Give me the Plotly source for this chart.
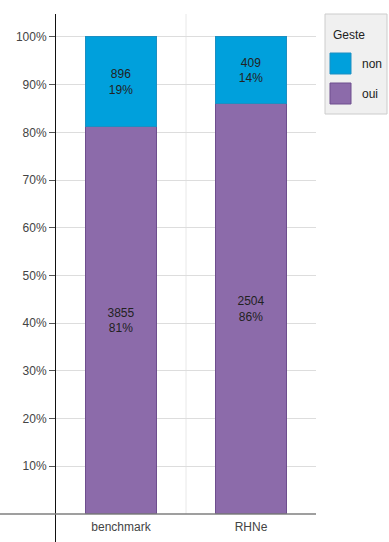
import plotly.graph_objects as go

categories = ["benchmark", "RHNe"]
series_names = ["non", "oui"]
non_counts = [896, 409]
oui_counts = [3855, 2504]
series_colors = ["#00A0DC", "#8C6BAA"]
series_lines = ["#1C8FC2", "#6E4E8E"]
y_ticks = [10, 20, 30, 40, 50, 60, 70, 80, 90, 100]
y_ticktext = [f"{v}%" for v in y_ticks]
legend_title = "Geste"

W, H = 389, 542
ML, MR, MT, MB = 56, 73, 14, 0
PW, PH = W - ML - MR, H - MT - MB

def px_x(x):
    return (x - ML) / PW

def px_y(y):
    return (H - MB - y) / PH

totals = [a + b for a, b in zip(non_counts, oui_counts)]
series_counts = [non_counts, oui_counts]

fig = go.Figure()
# stack order: "oui" at the bottom, "non" on top
for idx in [1, 0]:
    name, counts = series_names[idx], series_counts[idx]
    col, lc = series_colors[idx], series_lines[idx]
    pct = [c / t * 100 for c, t in zip(counts, totals)]
    fig.add_trace(go.Bar(
        x=categories, y=pct, name=name,
        marker=dict(color=col, line=dict(color=lc, width=1)),
        text=[f"{c}<br>{round(p)}%" for c, p in zip(counts, pct)],
        textposition="inside", insidetextanchor="middle",
        textfont=dict(color="#222222", size=12, family="Liberation Sans, Arial"),
        textangle=0, width=0.54, showlegend=False, hoverinfo="skip",
    ))

fig.update_layout(
    barmode="stack",
    width=W, height=H,
    margin=dict(l=ML, r=MR, t=MT, b=MB, pad=0, autoexpand=False),
    paper_bgcolor="white", plot_bgcolor="white",
    font=dict(family="Liberation Sans, Arial", size=12, color="#444444"),
    xaxis=dict(
        type="category", range=[-0.5, 1.5], showgrid=False, showline=False,
        zeroline=False, ticks="", anchor="free", position=px_y(514),
        tickfont=dict(size=12, color="#444444"), automargin=False,
        ticklabelstandoff=4,
    ),
    yaxis=dict(
        range=[-5.87, 104.8], tickvals=y_ticks, ticktext=y_ticktext,
        showgrid=True, gridcolor="#DDDDDD", gridwidth=1,
        showline=True, linecolor="#111111", linewidth=1,
        ticks="outside", ticklen=6, tickcolor="#555555",
        zeroline=False, tickfont=dict(size=12, color="#444444"), automargin=False,
    ),
)

# vertical separator between categories
fig.add_shape(type="line", xref="x", yref="y", x0=0.5, x1=0.5, y0=0, y1=104.8,
              line=dict(color="#E8E8E8", width=1), layer="below")
# baseline (x axis line)
fig.add_shape(type="line", xref="paper", yref="y", x0=px_x(0), x1=1, y0=0, y1=0,
              line=dict(color="#7F7F7F", width=1.5), layer="above")

# legend box
fig.add_shape(type="rect", xref="paper", yref="paper",
              x0=px_x(325), x1=px_x(387), y0=px_y(114), y1=px_y(14),
              fillcolor="#F0F0F0", line=dict(color="#CCCCCC", width=1))
fig.add_annotation(xref="paper", yref="paper", x=px_x(331), y=px_y(35),
                   text=legend_title, showarrow=False, xanchor="left", yanchor="middle",
                   font=dict(size=12, color="#222222"))
for i, (name, col, lc) in enumerate(zip(series_names, series_colors, series_lines)):
    top = 53 + i * 30
    fig.add_shape(type="rect", xref="paper", yref="paper",
                  x0=px_x(330), x1=px_x(351), y0=px_y(top + 21), y1=px_y(top),
                  fillcolor=col, line=dict(color=lc, width=1))
    fig.add_annotation(xref="paper", yref="paper", x=px_x(360), y=px_y(top + 11),
                       text=name, showarrow=False, xanchor="left", yanchor="middle",
                       font=dict(size=12, color="#222222"))

fig.write_html(
    "out.html",
    config={"displayModeBar": False},
    post_script="document.body.style.margin='0';document.body.style.overflow='hidden';",
)
